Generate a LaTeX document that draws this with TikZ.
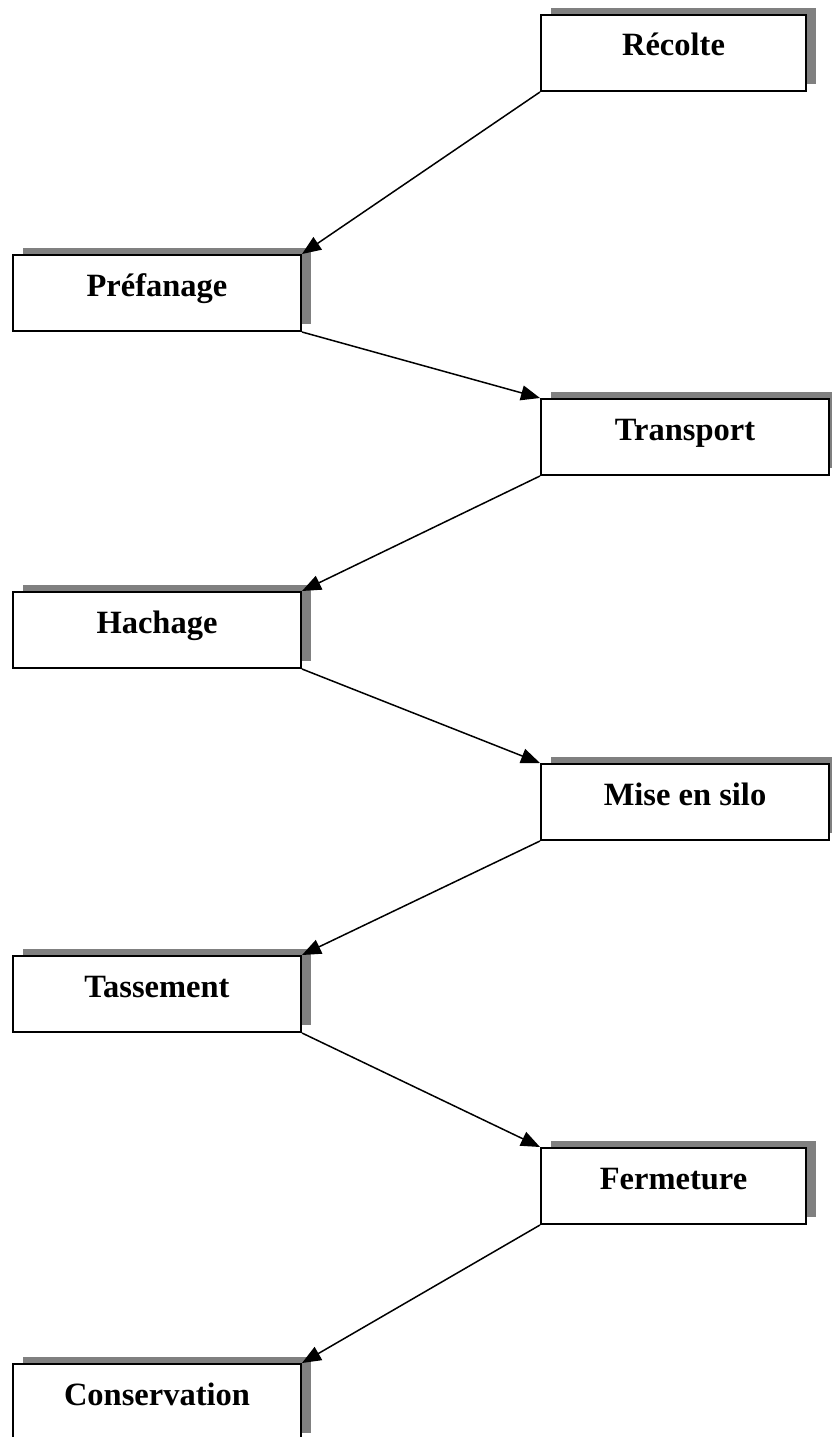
\documentclass[tikz,border=0pt]{standalone}
\usepackage{fontspec}
\setmainfont{Liberation Serif}
\usetikzlibrary{shadows,arrows.meta}
\definecolor{shadowgray}{RGB}{128,128,128}
\tikzset{
  stagebox/.style={draw=black, line width=2pt, fill=white, anchor=north west,
    minimum height=76pt, inner sep=0pt, text height=14pt, text depth=8pt,
    font=\fontsize{32.5}{38}\selectfont\bfseries,
    general shadow={shadow xshift=10pt, shadow yshift=7pt, fill=shadowgray, draw=none}},
  wide/.style={minimum width=288pt},
  narrow/.style={minimum width=265pt},
  flow/.style={draw=black, line width=1.5pt, -{Triangle[length=19pt,width=15pt]}}
}
\begin{document}
\begin{tikzpicture}[x=1pt,y=-1pt]
\useasboundingbox (0,0) rectangle (832,1437);
\clip (0,0) rectangle (832,1437);
\node[stagebox,narrow] (recolte) at (540,14) {Récolte};
\node[stagebox,wide] (prefanage) at (12,254) {Préfanage};
\node[stagebox,wide] (transport) at (540,398) {Transport};
\node[stagebox,wide] (hachage) at (12,591) {Hachage};
\node[stagebox,wide] (silo) at (540,763) {Mise en silo};
\node[stagebox,wide] (tassement) at (12,955) {Tassement};
\node[stagebox,narrow] (fermeture) at (540,1147) {Fermeture};
\node[stagebox,wide] (conservation) at (12,1363) {Conservation};
\draw[flow] (recolte.south west) -- (prefanage.north east);
\draw[flow] (prefanage.south east) -- (transport.north west);
\draw[flow] (transport.south west) -- (hachage.north east);
\draw[flow] (hachage.south east) -- (silo.north west);
\draw[flow] (silo.south west) -- (tassement.north east);
\draw[flow] (tassement.south east) -- (fermeture.north west);
\draw[flow] (fermeture.south west) -- (conservation.north east);
\end{tikzpicture}
\end{document}
